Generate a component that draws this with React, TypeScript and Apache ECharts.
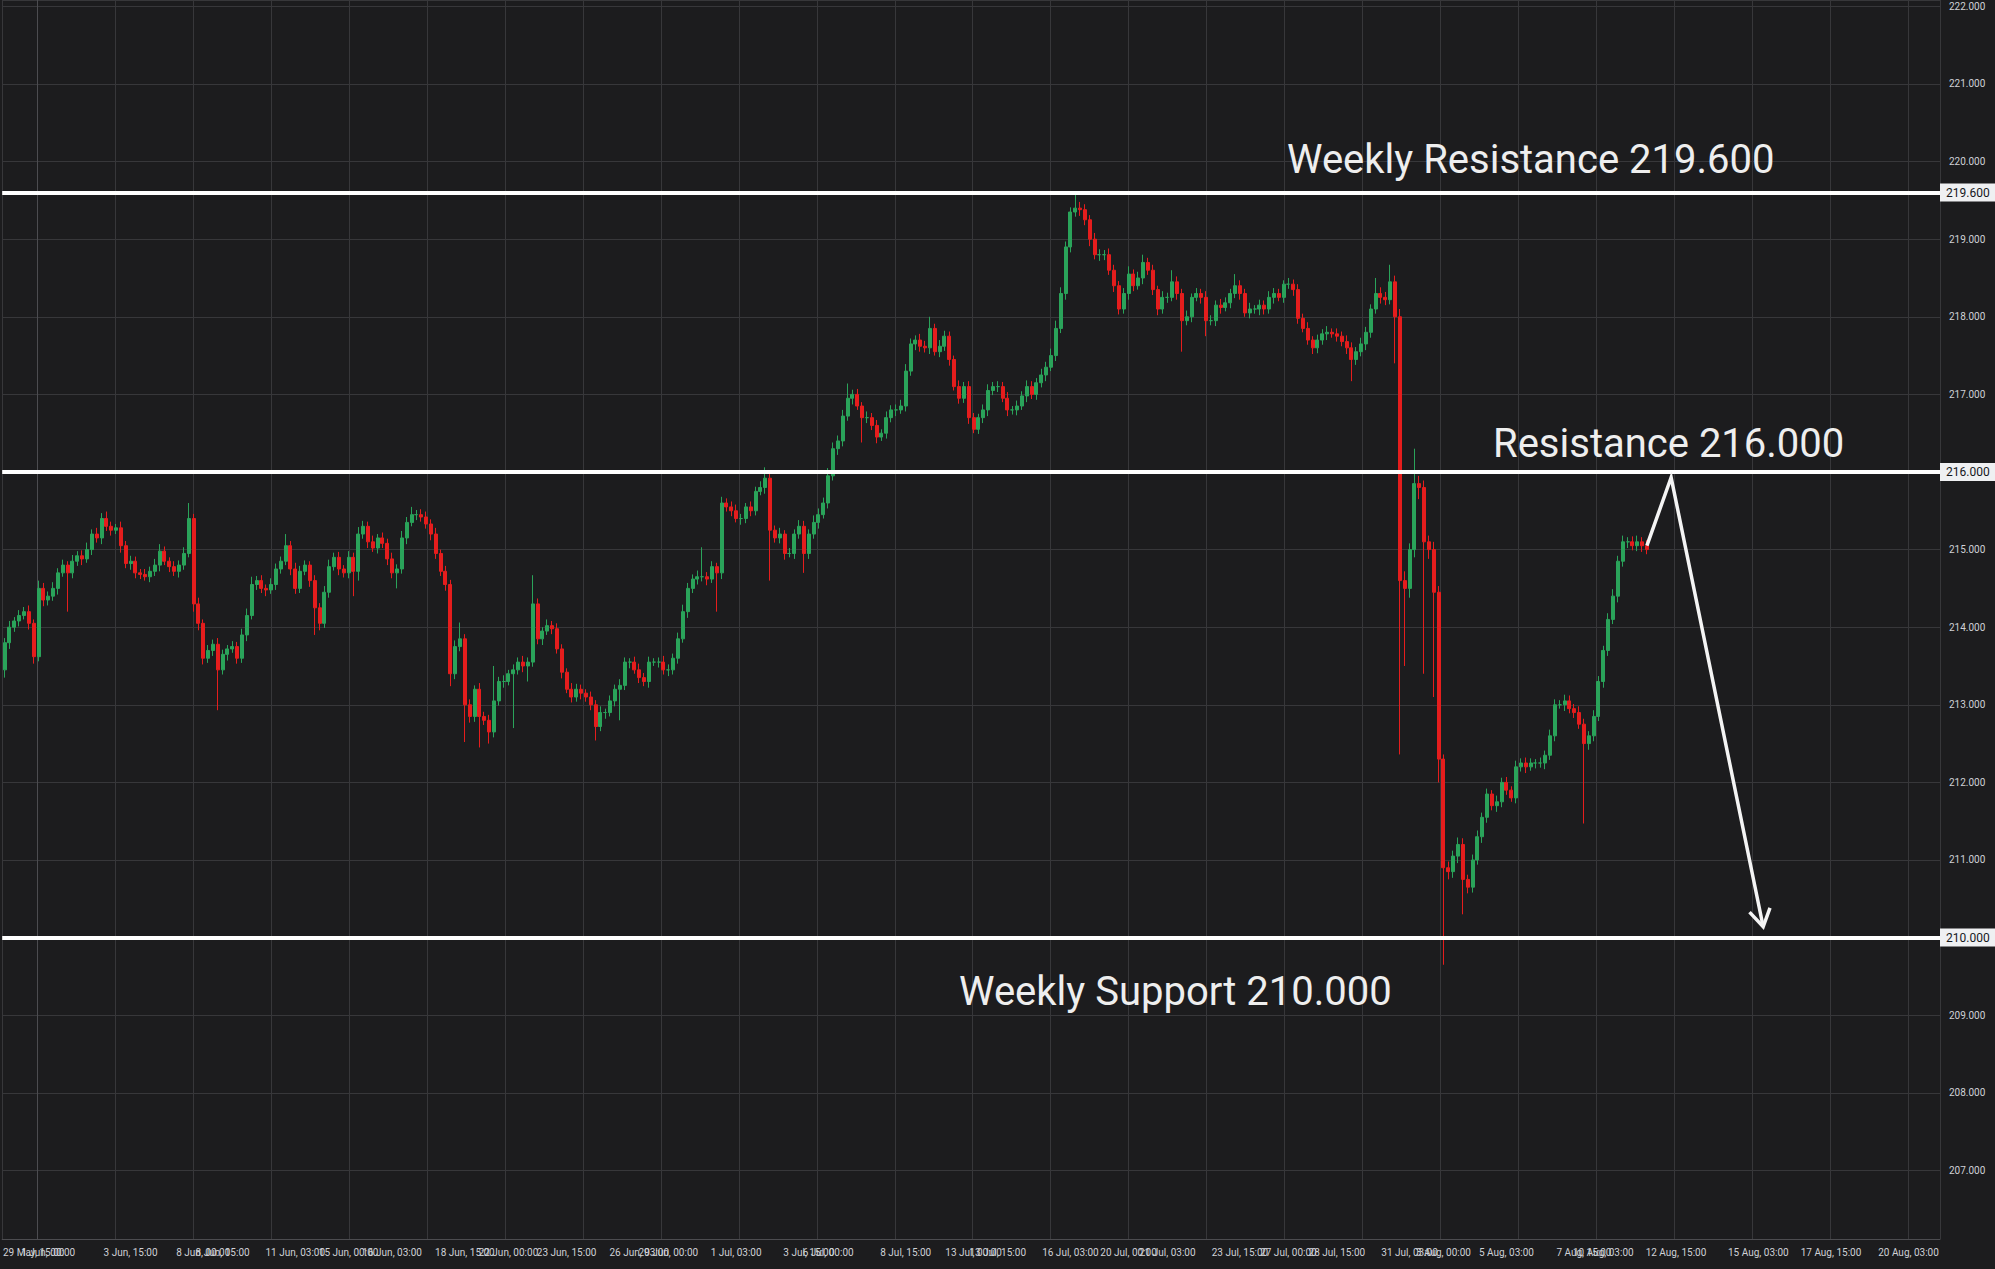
import React, { useEffect, useRef } from 'react';
import * as echarts from 'echarts';

// ---- closes (segments of the period) ----
const closeA = [
  213.80, 214.00, 214.08, 214.15, 214.20, 214.05, 213.62, 214.50, 214.35, 214.40,
  214.50, 214.70, 214.80, 214.70, 214.85, 214.92, 214.88, 215.00, 215.20, 215.15,
  215.40, 215.30, 215.25, 215.28, 215.05, 214.82, 214.85, 214.70, 214.68, 214.65,
  214.72, 214.80, 214.98, 214.85, 214.78, 214.72, 214.80, 214.95, 215.40, 214.30,
  214.05, 213.60, 213.70, 213.78, 213.45, 213.65, 213.72, 213.75, 213.60, 213.90,
  214.15, 214.55, 214.60, 214.50, 214.48, 214.55, 214.75, 214.85, 215.05, 214.75,
  214.50, 214.72, 214.80, 214.60, 214.25, 214.05, 214.45, 214.78, 214.90, 214.75,
  214.70, 214.90, 214.72, 215.20, 215.30, 215.10, 215.02, 215.15, 215.08, 214.88,
  214.70, 214.75, 215.15, 215.35, 215.45, 215.45, 215.42,
];
const closeB = [
  215.33, 215.20, 214.95, 214.72, 214.55, 213.40, 213.75, 213.85, 213.00, 212.85,
  213.20, 212.85, 212.80, 212.65, 213.05, 213.30, 213.30, 213.40, 213.45, 213.55,
  213.50, 213.55, 214.30, 213.85, 213.95, 214.02, 213.98, 213.72, 213.42, 213.20,
  213.10, 213.20, 213.15, 213.10, 213.00, 212.72, 212.90, 212.90, 213.05, 213.20,
  213.25, 213.55, 213.55, 213.45, 213.35, 213.30, 213.55, 213.55, 213.55, 213.45,
  213.45, 213.60, 213.85, 214.20, 214.50, 214.62, 214.65, 214.65, 214.62, 214.78,
  214.70, 215.60, 215.55, 215.50, 215.40, 215.40, 215.55, 215.50, 215.75, 215.80,
  215.92, 215.25, 215.15, 215.20, 214.95, 214.95, 215.20, 215.30, 214.95, 215.20,
  215.35, 215.45, 215.60, 215.95, 216.30, 216.40,
];
const closeC = [
  216.72, 216.95, 217.00, 216.85, 216.70, 216.70, 216.60, 216.45, 216.50, 216.70,
  216.80, 216.80, 216.85, 217.30, 217.65, 217.70, 217.62, 217.60, 217.85, 217.55,
  217.62, 217.75, 217.45, 217.10, 216.95, 217.10, 216.70, 216.55, 216.70, 216.80,
  217.05, 217.10, 217.10, 216.95, 216.80, 216.80, 216.85, 216.98, 217.10, 217.00,
  217.15, 217.25, 217.35, 217.50, 217.85, 218.30, 218.90, 219.35, 219.40, 219.38,
  219.25, 219.00, 218.80, 218.80, 218.80, 218.60, 218.40, 218.10,
];
const closeD = [
  218.30, 218.55, 218.40, 218.50, 218.70, 218.60, 218.35, 218.10, 218.25, 218.25,
  218.45, 218.30, 217.95, 218.00, 218.25, 218.30, 218.25, 217.95, 217.95, 218.15,
  218.12, 218.18, 218.30, 218.40, 218.30, 218.05, 218.10, 218.10, 218.15, 218.10,
  218.25, 218.30, 218.25, 218.42, 218.42, 218.35, 217.98, 217.85, 217.70, 217.60,
  217.70, 217.78, 217.80, 217.78, 217.75, 217.68, 217.60, 217.45, 217.55, 217.65,
  217.80, 218.10, 218.30, 218.25, 218.22, 218.45, 218.00,
];
const closeE = [
  214.60, 214.50, 215.00, 215.85, 215.80, 215.10, 215.00, 214.45, 212.30, 210.90,
  210.85, 211.05, 211.20, 210.75, 210.65, 211.00, 211.30, 211.55, 211.85, 211.70,
  211.75, 212.00, 211.90, 211.80, 212.20, 212.25, 212.20, 212.25, 212.25, 212.25,
  212.35, 212.60, 213.00, 213.00, 213.05, 212.95, 212.90, 212.75, 212.50, 212.60,
  212.85, 213.30, 213.70, 214.10, 214.40, 214.85, 215.10, 215.10, 215.05, 215.10,
  215.05, 215.00,
];

// ---- wick extents above / below the body, in hundredths ----
const upA = [6,8,5,7,6,8,5,10,7,6, 8,6,7,5,8,6,7,9,6,8, 7,9,6,5,8,6,7,6,5,7, 6,8,9,6,5,7,6,8,20,6, 8,5,7,6,8,6,5,7,6,8, 9,10,6,7,5,8,7,6,15,6, 8,7,6,5,7,6,8,9,6,7, 5,8,6,9,7,6,8,5,7,6, 8,6,9,7,10,6,7];
const loA = [10,8,6,7,5,8,9,6,8,7, 6,8,5,50,7,6,8,5,7,6, 8,6,7,5,9,6,8,7,6,5, 7,6,8,5,7,6,8,6,5,10, 9,8,6,7,52,6,8,5,7,6, 8,5,7,6,8,5,7,6,5,8, 7,6,5,8,35,9,6,7,5,8, 6,7,32,12,6,8,5,7,6,8, 7,20,6,8,5,7,6];
const upB = [7,6,8,5,7,6,8,21,6,7, 5,8,6,7,45,6,8,5,7,6, 8,6,37,7,5,8,6,7,6,5, 8,7,6,5,7,6,8,5,7,6, 8,6,5,7,8,6,7,5,6,8, 7,6,8,9,7,6,8,38,6,7, 5,8,6,7,8,6,5,7,6,8, 14,7,6,8,5,7,6,8,7,6, 9,8,7,10,8,7];
const loB = [6,8,7,6,8,16,7,6,48,8, 7,40,6,15,7,6,8,5,70,6, 8,20,6,7,8,5,7,6,8,5, 7,6,8,6,7,18,6,8,5,7, 40,6,8,5,7,6,8,5,7,6, 8,6,7,5,8,6,7,6,8,5, 50,8,6,7,5,8,6,7,6,5, 8,65,6,7,8,5,7,6,25,7, 6,8,5,7,6,8];
const upC = [8,19,6,7,5,8,6,7,5,8, 6,7,8,9,7,6,8,7,15,6, 8,7,6,5,8,6,7,6,5,7, 8,6,7,6,8,5,7,6,8,7, 6,8,7,9,10,8,7,6,20,8, 7,6,8,7,6,8,7,6];
const loC = [7,6,8,5,32,7,6,8,5,7, 6,8,5,7,6,8,7,6,8,5, 7,6,8,5,7,6,8,5,6,7, 8,6,7,5,8,6,7,5,8,6, 7,6,8,5,7,6,8,7,6,8, 7,9,6,8,7,6,8,7];
const upD = [7,10,6,8,10,6,7,5,8,6, 15,7,6,8,5,7,6,8,7,6, 8,7,6,15,7,6,8,5,7,6, 8,7,6,5,8,6,7,6,8,5, 7,6,8,5,7,6,8,7,6,8, 7,6,20,8,7,22,8];
const loD = [6,8,7,5,8,6,7,8,6,7, 5,8,40,6,7,5,8,20,6,7, 8,5,7,6,8,5,7,6,8,7, 6,8,5,7,6,8,7,5,6,8, 7,6,8,5,7,6,8,28,7,6, 8,7,6,8,7,6,60];
const upE = [10,12,8,45,10,9,8,10,8,6, 8,7,9,8,6,7,8,6,7,5, 8,6,7,5,8,6,7,6,5,7, 6,8,7,6,8,7,6,8,7,6, 8,7,6,8,9,7,8,6,7,8, 6,7];
const loE = [224,100,12,10,15,170,12,135,30,125, 10,8,9,45,8,7,6,8,7,6, 8,7,6,5,7,6,8,5,7,6, 8,6,7,5,8,6,7,6,103,8, 7,6,8,7,6,8,7,8,6,7, 8,6];

const firstOpen = 213.45;
const totalSlots = 400; // candle slots incl. the empty future area

// ---- time-axis tick labels (slot index -> text) ----
const tickIndex = [6, 9, 26, 41, 45, 60, 71, 80, 95, 104, 116, 131, 137, 151, 166, 170, 186, 200, 205, 220, 232, 240, 255, 265, 275, 290, 297, 310, 326, 330, 345, 362, 377, 393];
const tickText = [
  '29 May, 15:00', '1 Jun, 00:00', '3 Jun, 15:00', '8 Jun, 00:00', '8 Jun, 15:00', '11 Jun, 03:00',
  '15 Jun, 00:00', '16 Jun, 03:00', '18 Jun, 15:00', '22 Jun, 00:00', '23 Jun, 15:00', '26 Jun, 03:00',
  '29 Jun, 00:00', '1 Jul, 03:00', '3 Jul, 15:00', '6 Jul, 00:00', '8 Jul, 15:00', '13 Jul, 00:00',
  '13 Jul, 15:00', '16 Jul, 03:00', '20 Jul, 00:00', '21 Jul, 03:00', '23 Jul, 15:00', '27 Jul, 00:00',
  '28 Jul, 15:00', '31 Jul, 03:00', '3 Aug, 00:00', '5 Aug, 03:00', '7 Aug, 15:00', '10 Aug, 03:00',
  '12 Aug, 15:00', '15 Aug, 03:00', '17 Aug, 15:00', '20 Aug, 03:00',
];

// ---- price levels and annotations ----
const levels = [219.6, 216.0, 210.0];
const levelTexts = ['Weekly Resistance 219.600', 'Resistance 216.000', 'Weekly Support 210.000'];
const yMin = 206.116;
const yMax = 222.082;
// vertical grid spacing expressed in grid units
const vGridMin = -0.4471;
const vGridMax = 24.405;

// projection arrow: [slot, price]
const arrowStart: [number, number] = [339, 215.05];
const arrowApex: [number, number] = [344, 215.93];
const arrowTip: [number, number] = [363, 210.14];

export default function App() {
  const ref = useRef<HTMLDivElement>(null);

  useEffect(() => {
    if (!ref.current) return;
    const chart = echarts.init(ref.current, undefined, { renderer: 'svg' });

    const closes = [...closeA, ...closeB, ...closeC, ...closeD, ...closeE];
    const ups = [...upA, ...upB, ...upC, ...upD, ...upE];
    const los = [...loA, ...loB, ...loC, ...loD, ...loE];
    const candles = closes.map((c, i) => {
      const o = i === 0 ? firstOpen : closes[i - 1];
      const hi = Math.max(o, c) + (ups[i] || 0) / 100;
      const lo = Math.min(o, c) - (los[i] || 0) / 100;
      return [o, c, +lo.toFixed(3), +hi.toFixed(3)];
    });

    // categories: empty except tick labels; a blank placeholder at both ends
    // absorbs ECharts' min/max-label overlap handling so every real label shows
    const categories: string[] = [];
    for (let i = 0; i < totalSlots; i++) categories.push('');
    categories[0] = ' ';
    categories[totalSlots - 1] = ' ';
    tickIndex.forEach((idx, k) => { categories[idx] = tickText[k]; });

    const gridColor = '#37373a';
    const axisColor = '#4c4c50';
    const labelColor = '#cfd1d6';

    const option: any = {
      animation: false,
      backgroundColor: '#1c1c1e',
      grid: { left: 0, right: 55, top: 0, bottom: 30, containLabel: false },
      xAxis: [
        {
          type: 'category',
          data: categories,
          boundaryGap: true,
          axisLine: { show: true, lineStyle: { color: axisColor, width: 1 } },
          axisTick: { show: false },
          splitLine: { show: false },
          axisLabel: {
            interval: (_i: number, v: string) => v !== '',
            color: labelColor,
            fontSize: 10,
            fontFamily: 'Roboto',
            margin: 8,
            hideOverlap: false,
            showMinLabel: false,
            showMaxLabel: false,
          },
        },
        {
          type: 'value',
          min: vGridMin,
          max: vGridMax,
          splitNumber: 25,
          position: 'bottom',
          axisLine: { show: false },
          axisTick: { show: false },
          axisLabel: { show: false },
          splitLine: { show: true, lineStyle: { color: gridColor, width: 1 } },
        },
      ],
      yAxis: {
        type: 'value',
        position: 'right',
        min: yMin,
        max: yMax,
        splitNumber: 16,
        axisLine: { show: true, lineStyle: { color: axisColor, width: 1 } },
        axisTick: { show: false },
        axisLabel: {
          color: labelColor,
          fontSize: 10,
          fontFamily: 'Roboto',
          margin: 9,
          showMinLabel: false,
          showMaxLabel: false,
          formatter: (v: number) => v.toFixed(3),
        },
        splitLine: { show: true, lineStyle: { color: gridColor, width: 1 } },
      },
      series: [
        {
          type: 'candlestick',
          xAxisIndex: 0,
          yAxisIndex: 0,
          data: candles,
          barWidth: 3.5,
          itemStyle: {
            color: '#2aa35a',
            color0: '#e51d1d',
            borderColor: '#2aa35a',
            borderColor0: '#e51d1d',
            borderWidth: 1,
          },
          markLine: {
            symbol: 'none',
            silent: true,
            animation: false,
            lineStyle: { color: '#ffffff', width: 4, type: 'solid' },
            label: {
              show: true,
              position: 'end',
              distance: 0,
              formatter: (p: any) => Number(p.value).toFixed(3),
              backgroundColor: '#eff0f2',
              color: '#16181d',
              fontSize: 12,
              fontFamily: 'Roboto',
              padding: [3, 7, 3, 6],
            },
            emphasis: { disabled: true },
            data: levels.map((v) => ({ yAxis: v })),
          },
        },
      ],
    };

    chart.setOption(option);

    const pt = (p: [number, number]) => chart.convertToPixel({ seriesIndex: 0 }, p) as number[];
    const yOf = (v: number) => (chart.convertToPixel({ yAxisIndex: 0 }, v) as number);

    const s = pt(arrowStart);
    const a = pt(arrowApex);
    const t = pt(arrowTip);
    const dx = t[0] - a[0];
    const dy = t[1] - a[1];
    const len = Math.sqrt(dx * dx + dy * dy);
    const ux = dx / len, uy = dy / len;
    const head = 20;
    const ang = 0.55;
    const w1 = [t[0] - head * (ux * Math.cos(ang) - uy * Math.sin(ang)), t[1] - head * (uy * Math.cos(ang) + ux * Math.sin(ang))];
    const w2 = [t[0] - head * (ux * Math.cos(ang) + uy * Math.sin(ang)), t[1] - head * (uy * Math.cos(ang) - ux * Math.sin(ang))];

    const textStyle = (txt: string) => ({
      text: txt,
      fill: '#eeeeee',
      fontSize: 40,
      fontFamily: 'Roboto',
      textAlign: 'left',
      textVerticalAlign: 'middle',
    });

    chart.setOption({
      graphic: [
        { type: 'text', x: 1287, y: yOf(levels[0]) - 33, style: textStyle(levelTexts[0]), z: 100 },
        { type: 'text', x: 1493, y: yOf(levels[1]) - 28, style: textStyle(levelTexts[1]), z: 100 },
        { type: 'text', x: 959, y: yOf(levels[2]) + 54, style: textStyle(levelTexts[2]), z: 100 },
        {
          type: 'polyline',
          shape: { points: [s, a, t] },
          style: { stroke: '#f4f4f4', lineWidth: 3.5, fill: 'none', lineJoin: 'miter', miterLimit: 10 },
          z: 100,
        },
        {
          type: 'polyline',
          shape: { points: [w1, t, w2] },
          style: { stroke: '#f4f4f4', lineWidth: 3.5, fill: 'none', lineJoin: 'miter' },
          z: 100,
        },
      ],
    });

    return () => chart.dispose();
  }, []);

  return (
    <div
      ref={ref}
      style={{ position: 'absolute', left: 0, top: 0, width: 1995, height: 1269 }}
    />
  );
}
